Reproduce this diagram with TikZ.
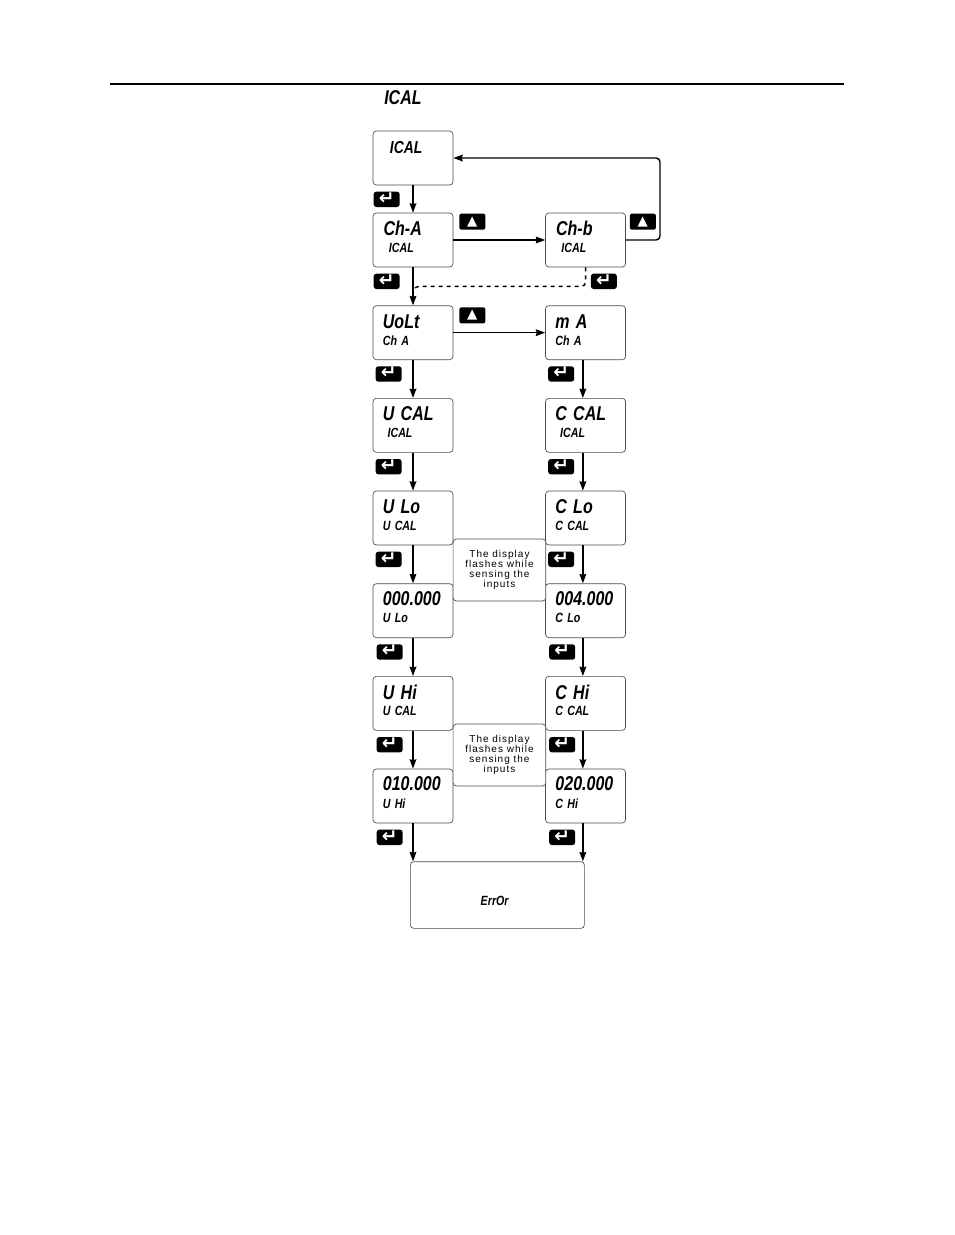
\documentclass[tikz,border=0pt]{standalone}
\usepackage{fontspec}
\usepackage{tikz}
\usetikzlibrary{shapes,arrows.meta}
\newfontfamily\dispfont[FakeStretch=0.8,WordSpace=1.4]{Liberation Sans}
\newfontfamily\notefont[LetterSpace=10]{Liberation Sans}
\newfontfamily\keyfont{DejaVu Sans}
\tikzset{>={Stealth[length=7pt,width=5pt,inset=0.6pt]}}
\tikzstyle{block} = [rectangle, draw=black!70, line width=0.5pt, rounded corners=2.5pt, fill=white, minimum height=40.5pt, minimum width=60pt, node distance=69.5pt]
\tikzstyle{noteBlock} = [rectangle, draw=black!70, line width=0.5pt, rounded corners=2.5pt, fill=white, minimum height=46.5pt, minimum width=69.5pt, align=center, inner sep=0pt, font={\notefont\fontsize{7.5}{7.7}\selectfont}]
\tikzstyle{dispLarge} = [anchor=west, inner sep=0pt, font={\dispfont\bfseries\itshape\fontsize{15}{15}\selectfont}]
\tikzstyle{dispMid} = [anchor=west, inner sep=0pt, font={\dispfont\bfseries\itshape\fontsize{13}{13}\selectfont}]
\tikzstyle{dispSmall} = [anchor=west, inner sep=0pt, font={\dispfont\bfseries\itshape\fontsize{10}{10}\selectfont}]
\tikzstyle{enterKey} = [rectangle, fill=black, text=white, rounded corners=2pt, minimum width=19.5pt, minimum height=11.5pt, text height=7pt, text depth=0pt, inner sep=0pt, font={\keyfont\bfseries\fontsize{14}{14}\selectfont}]
\tikzstyle{upKey} = [rectangle, fill=black, text=white, rounded corners=1.5pt, minimum width=19.5pt, minimum height=12pt, inner sep=0pt, font={\keyfont\fontsize{10}{10}\selectfont}]
\tikzstyle{line} = [draw,->,line width=1.1pt]
\tikzstyle{lineD} = [draw,dashed,line width=1.1pt,rounded corners=3pt]
\begin{document}
\begin{tikzpicture}

   \useasboundingbox (0,0) rectangle (715.5pt,-926.25pt);

   \coordinate (ruleL) at (82.5pt,-63pt);
   \coordinate (ruleR) at (633pt,-63pt);
   \draw[line width=1.5pt] (ruleL) -- (ruleR);

   \node[dispLarge] (title) at (288pt,-73pt) {ICAL};

   % Left column
   \node[block] (iCal) at (309.75pt,-118.5pt) {};
   \node[block] (chA) [below of = iCal, yshift = 8pt] {};
   \node[block] (volt) [below of = chA] {};
   \node[block] (vCal) [below of = volt] {};
   \node[block] (vLo) [below of = vCal] {};
   \node[block] (vLoVal) [below of = vLo] {};
   \node[block] (vHi) [below of = vLoVal] {};
   \node[block] (vHiVal) [below of = vHi] {};

   % Right column
   \node[block] (chB) at (chA)[xshift=129.4pt] {};
   \node[block] (mAmp) at (volt)[xshift=129.4pt] {};
   \node[block] (cCal) [below of = mAmp] {};
   \node[block] (cLo) [below of = cCal] {};
   \node[block] (cLoVal) [below of = cLo] {};
   \node[block] (cHi) [below of = cLoVal] {};
   \node[block] (cHiVal) [below of = cHi] {};

   \node[block, minimum width=130.5pt, minimum height=50pt] (err) at (373pt,-671.25pt) {};

   %% Texts of the displays

   \node[dispMid] (iCalT) at (iCal.north west)[xshift=12.75pt,yshift=-12.75pt] {ICAL};

   \node[dispLarge] (chAT) at (chA.north west)[xshift=8pt,yshift=-11.5pt] {Ch-A};
   \node[dispSmall] (chAS) at (chA.north west)[xshift=12pt,yshift=-26.25pt] {ICAL};
   \node[dispLarge] (chBT) at (chB.north west)[xshift=8pt,yshift=-11.5pt] {Ch-b};
   \node[dispSmall] (chBS) at (chB.north west)[xshift=12pt,yshift=-26.25pt] {ICAL};

   \node[dispLarge] (voltT) at (volt.north west)[xshift=7.5pt,yshift=-12pt] {UoLt};
   \node[dispSmall] (voltS) at (volt.north west)[xshift=7.5pt,yshift=-26.25pt] {Ch A};
   \node[dispLarge] (mAmpT) at (mAmp.north west)[xshift=7.5pt,yshift=-12pt] {m A};
   \node[dispSmall] (mAmpS) at (mAmp.north west)[xshift=7.5pt,yshift=-26.25pt] {Ch A};

   \node[dispLarge] (vCalT) at (vCal.north west)[xshift=7.5pt,yshift=-12pt] {U CAL};
   \node[dispSmall] (vCalS) at (vCal.north west)[xshift=11pt,yshift=-26.25pt] {ICAL};
   \node[dispLarge] (cCalT) at (cCal.north west)[xshift=7.5pt,yshift=-12pt] {C CAL};
   \node[dispSmall] (cCalS) at (cCal.north west)[xshift=11pt,yshift=-26.25pt] {ICAL};

   \node[dispLarge] (vLoT) at (vLo.north west)[xshift=7.5pt,yshift=-12pt] {U Lo};
   \node[dispSmall] (vLoS) at (vLo.north west)[xshift=7.5pt,yshift=-26.25pt] {U CAL};
   \node[dispLarge] (cLoT) at (cLo.north west)[xshift=7.5pt,yshift=-12pt] {C Lo};
   \node[dispSmall] (cLoS) at (cLo.north west)[xshift=7.5pt,yshift=-26.25pt] {C CAL};

   \node[dispLarge] (vLoValT) at (vLoVal.north west)[xshift=7.5pt,yshift=-11.5pt] {000.000};
   \node[dispSmall] (vLoValS) at (vLoVal.north west)[xshift=7.5pt,yshift=-26.25pt] {U Lo};
   \node[dispLarge] (cLoValT) at (cLoVal.north west)[xshift=7.5pt,yshift=-11.5pt] {004.000};
   \node[dispSmall] (cLoValS) at (cLoVal.north west)[xshift=7.5pt,yshift=-26.25pt] {C Lo};

   \node[dispLarge] (vHiT) at (vHi.north west)[xshift=7.5pt,yshift=-12pt] {U Hi};
   \node[dispSmall] (vHiS) at (vHi.north west)[xshift=7.5pt,yshift=-26.25pt] {U CAL};
   \node[dispLarge] (cHiT) at (cHi.north west)[xshift=7.5pt,yshift=-12pt] {C Hi};
   \node[dispSmall] (cHiS) at (cHi.north west)[xshift=7.5pt,yshift=-26.25pt] {C CAL};

   \node[dispLarge] (vHiValT) at (vHiVal.north west)[xshift=7.5pt,yshift=-11.5pt] {010.000};
   \node[dispSmall] (vHiValS) at (vHiVal.north west)[xshift=7.5pt,yshift=-26.25pt] {U Hi};
   \node[dispLarge] (cHiValT) at (cHiVal.north west)[xshift=7.5pt,yshift=-11.5pt] {020.000};
   \node[dispSmall] (cHiValS) at (cHiVal.north west)[xshift=7.5pt,yshift=-26.25pt] {C Hi};

   \node[dispSmall, anchor=center] (errT) at (err)[xshift=-2pt,yshift=-4.5pt] {ErrOr};

   %% Lines

   \coordinate (loopC) at ([xshift=155pt]iCal.east);
   \coordinate (dashC) at ([xshift=1.5pt,yshift=-14.25pt]chA.south);
   \coordinate (dashE) at ([yshift=-19pt]chA.south);

   \path[line] (iCal) -- (chA);
   \path[line] (chA) -- (volt);
   \path[line] (volt) -- (vCal);
   \path[line] (vCal) -- (vLo);
   \path[line] (vLo) -- (vLoVal);
   \path[line] (vLoVal) -- (vHi);
   \path[line] (vHi) -- (vHiVal);
   \path[line] (vHiVal.south) -- (vHiVal.south |- err.north);

   \path[line] ([xshift=-2pt]mAmp.south) -- ([xshift=-2pt]cCal.north);
   \path[line] ([xshift=-2pt]cCal.south) -- ([xshift=-2pt]cLo.north);
   \path[line] ([xshift=-2pt]cLo.south) -- ([xshift=-2pt]cLoVal.north);
   \path[line] ([xshift=-2pt]cLoVal.south) -- ([xshift=-2pt]cHi.north);
   \path[line] ([xshift=-2pt]cHi.south) -- ([xshift=-2pt]cHiVal.north);
   \path[line] ([xshift=-2pt]cHiVal.south) -- ([xshift=-2pt]cHiVal.south |- err.north);

   \path[line] (chA) -- (chB);
   \path[line] (volt) -- (mAmp);
   \path[line, rounded corners=3pt] (chB.east) -| (loopC) -- (iCal.east);
   \path[lineD] (chB.south) |- (dashC) -- (dashE);

   %% Keys

   \node[enterKey] (keyA) at (iCal.south west)[xshift=10.5pt,yshift=-10.5pt] {↵};
   \node[enterKey] (keyB) at (chA.south west)[xshift=10.5pt,yshift=-10.5pt] {↵};
   \node[enterKey] (keyC) at (chB.south west)[xshift=44pt,yshift=-10.5pt] {↵};
   \node[enterKey] (keyD) at (volt.south west)[xshift=12pt,yshift=-10.5pt] {↵};
   \node[enterKey] (keyE) at (mAmp.south west)[xshift=12pt,yshift=-10.5pt] {↵};
   \node[enterKey] (keyF) at (vCal.south west)[xshift=12pt,yshift=-10.5pt] {↵};
   \node[enterKey] (keyG) at (cCal.south west)[xshift=12pt,yshift=-10.5pt] {↵};
   \node[enterKey] (keyH) at (vLo.south west)[xshift=12pt,yshift=-10.5pt] {↵};
   \node[enterKey] (keyI) at (cLo.south west)[xshift=12pt,yshift=-10.5pt] {↵};
   \node[enterKey] (keyJ) at (vLoVal.south west)[xshift=12.75pt,yshift=-10.5pt] {↵};
   \node[enterKey] (keyK) at (cLoVal.south west)[xshift=12.75pt,yshift=-10.5pt] {↵};
   \node[enterKey] (keyL) at (vHi.south west)[xshift=12.75pt,yshift=-10.5pt] {↵};
   \node[enterKey] (keyM) at (cHi.south west)[xshift=12.75pt,yshift=-10.5pt] {↵};
   \node[enterKey] (keyN) at (vHiVal.south west)[xshift=12.75pt,yshift=-10.5pt] {↵};
   \node[enterKey] (keyO) at (cHiVal.south west)[xshift=12.75pt,yshift=-10.5pt] {↵};

   \node[upKey] (upA) at (chA.north east)[xshift=14.25pt,yshift=-6.75pt] {▲};
   \node[upKey] (upB) at (chB.north east)[xshift=12.75pt,yshift=-6.75pt] {▲};
   \node[upKey] (upC) at (volt.north east)[xshift=14.25pt,yshift=-7.5pt] {▲};

   %% Notes

   \node[noteBlock] (noteLo) at (374.6pt,-427.5pt) {The display\\flashes while\\sensing the\\inputs};
   \node[noteBlock] (noteHi) at (374.6pt,-566.25pt) {The display\\flashes while\\sensing the\\inputs};

\end{tikzpicture}
\end{document}
